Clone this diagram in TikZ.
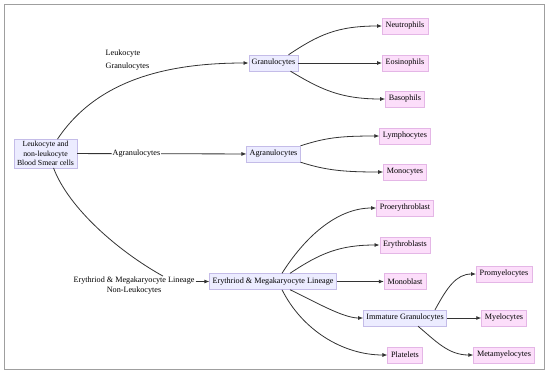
\documentclass[tikz,border=0pt]{standalone}
\usepackage{fontspec}
\setmainfont{Liberation Serif}
\usepackage{xcolor}
\usetikzlibrary{arrows.meta,positioning}
\definecolor{lavfill}{RGB}{236,236,255}
\definecolor{lavline}{RGB}{196,188,232}
\definecolor{pinkfill}{RGB}{252,222,250}
\definecolor{pinkline}{RGB}{228,182,230}
\definecolor{linkgray}{RGB}{51,51,51}

\begin{document}
\begin{tikzpicture}[x=1bp, y=-1bp,
    font=\fontsize{8.2}{10}\selectfont,
    hub/.style={draw=lavline, fill=lavfill, inner xsep=3bp, inner ysep=2bp, minimum height=16bp, align=center},
    leaf/.style={draw=pinkline, fill=pinkfill, inner xsep=3.5bp, inner ysep=2bp, minimum height=16bp},
    link/.style={draw=linkgray, line width=0.8bp},
    arr/.style={link, -{Latex[length=5bp,width=4bp]}}]
    \useasboundingbox (0,0) rectangle (550,374);
    \draw[gray!75, line width=1bp] (4.5,4.5) rectangle (544.5,369.5);

    % Hubs
    \node[hub, font=\fontsize{7.8}{9.5}\selectfont] (root) at (45.5,153.5) {Leukocyte and\\non-leukocyte\\Blood Smear cells};
    \node[hub] (gran) at (273.5,63) {Granulocytes};
    \node[hub] (agr) at (273.5,154) {Agranulocytes};
    \node[hub] (erm) at (273,281.5) {Erythriod \& Megakaryocyte Lineage};
    \node[hub] (img) at (405,318) {Immature Granulocytes};

    % Leaves
    \foreach \name/\txt/\x/\y in {neu/Neutrophils/405/26, eos/Eosinophils/405/63, bas/Basophils/405/99,
        lym/Lymphocytes/405/136, mon/Monocytes/405/172, pro/Proerythroblast/405/208,
        ery/Erythroblasts/405/245, mob/Monoblast/405/281.5, pla/Platelets/405/355,
        prm/Promyelocytes/504/274, myl/Myelocytes/504/318, met/Metamyelocytes/504/355} {
        \node[leaf] (\name) at (\x,\y) {\txt};
    }

    % Edge labels
    \node[anchor=west, align=left, inner sep=0pt, font=\fontsize{8.2}{12.4}\selectfont] (lab1) at (105.5,60) {Leukocyte\\Granulocytes};
    \node[align=center, inner sep=1bp] (lab3) at (134,286) {Erythriod \& Megakaryocyte Lineage\\Non-Leukocytes};

    % From the smear cells
    \draw[arr] ([xshift=12bp]root.north) .. controls +(40,-60) and +(-80,0) .. (gran.west);
    \draw[arr] (root) -- node[pos=0.35, fill=white, inner sep=1bp] {Agranulocytes} (agr);
    \draw[link] ([xshift=8bp]root.south) .. controls +(15,40) and +(-45,-25) .. ([xshift=29bp]lab3.north);
    \draw[arr] (lab3.east |- erm) -- (erm.west);

    % Granulocytes and agranulocytes
    \draw[arr] ([xshift=-10bp]gran.north east) .. controls +(30,-20) and +(-45,0) .. (neu.west);
    \draw[arr] (gran) -- (eos);
    \draw[arr] ([xshift=-8bp]gran.south east) .. controls +(30,18) and +(-45,0) .. (bas.west);
    \draw[arr] (agr.north east) .. controls +(25,-8) and +(-40,0) .. (lym.west);
    \draw[arr] (agr.south east) .. controls +(25,8) and +(-40,0) .. (mon.west);

    % Erythroid and megakaryocyte lineage
    \draw[arr] ([xshift=9bp]erm.north) .. controls +(22,-35) and +(-40,0) .. (pro.west);
    \draw[arr] ([xshift=17bp]erm.north) .. controls +(30,-20) and +(-40,0) .. (ery.west);
    \draw[arr] (erm) -- (mob);
    \draw[arr] ([xshift=17bp]erm.south) .. controls +(25,12) and +(-20,0) .. (img.west);
    \draw[arr] ([xshift=9bp]erm.south) .. controls +(20,40) and +(-45,0) .. (pla.west);

    % Immature granulocytes
    \draw[arr] ([xshift=30bp]img.north) .. controls +(12,-22) and +(-20,0) .. (prm.west);
    \draw[arr] (img) -- (myl);
    \draw[arr] ([xshift=13bp]img.south) .. controls +(18,15) and +(-25,0) .. (met.west);
\end{tikzpicture}
\end{document}
